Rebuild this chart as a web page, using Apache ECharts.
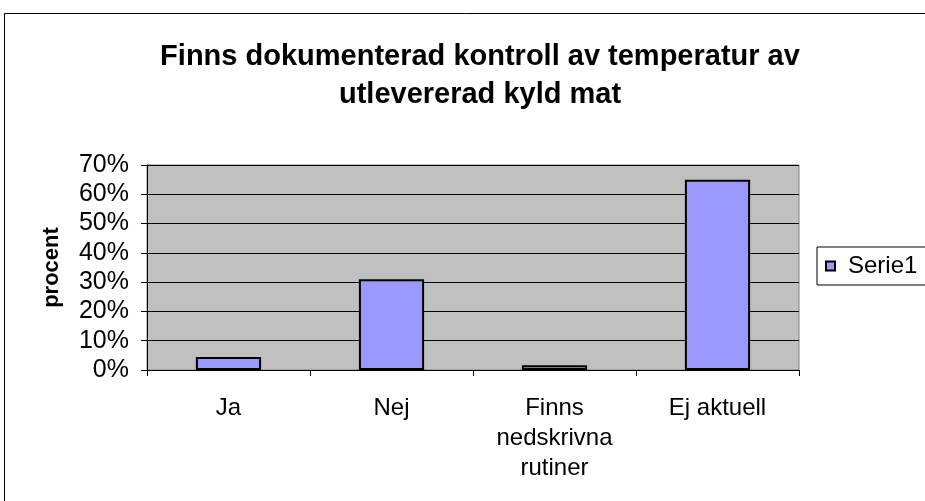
<!DOCTYPE html>
<html>
<head>
<meta charset="utf-8">
<script src="https://cdn.jsdelivr.net/npm/echarts@6/dist/echarts.min.js"></script>
<style>
  html, body { margin: 0; padding: 0; background: #fff; }
  #chart { width: 925px; height: 501px; }
</style>
</head>
<body>
<div id="chart"></div>
<script>
// kategorier och värden (andel)
var categories = ['Ja', 'Nej', 'Finns\nnedskrivna\nrutiner', 'Ej aktuell'];
var serie1 = [0.044, 0.31, 0.016, 0.65];
var seriesName = 'Serie1';

var chart = echarts.init(document.getElementById('chart'));
chart.setOption({
  animation: false,
  textStyle: { fontFamily: 'Liberation Sans, Arial, sans-serif' },
  title: {
    text: 'Finns dokumenterad kontroll av temperatur av\nutlevererad kyld mat',
    left: 475,
    top: 33,
    textAlign: 'center',
    textStyle: {
      fontSize: 29,
      fontWeight: 'bold',
      color: '#000',
      lineHeight: 38,
      fontFamily: 'Liberation Sans, Arial, sans-serif'
    }
  },
  graphic: [{
    type: 'rect',
    shape: { x: 4.5, y: 13.5, width: 1000, height: 600 },
    style: { fill: 'none', stroke: '#000', lineWidth: 1 },
    silent: true
  }],
  legend: {
    data: [seriesName],
    left: 817,
    top: 247,
    orient: 'vertical',
    padding: [7, 20, 7, 8],
    borderColor: '#000',
    borderWidth: 1,
    itemWidth: 9,
    itemHeight: 9,
    itemGap: 4,
    icon: 'rect',
    textStyle: { fontSize: 24, color: '#000', lineHeight: 24, padding: [0, 0, 0, 8] }
  },
  grid: {
    left: 147,
    right: 126,
    top: 165,
    bottom: 131,
    show: true,
    backgroundColor: '#C0C0C0',
    borderColor: '#808080',
    borderWidth: 1
  },
  xAxis: {
    type: 'category',
    data: categories,
    axisLine: { lineStyle: { color: '#000', width: 1 } },
    axisTick: { show: true, length: 6, lineStyle: { color: '#000' } },
    axisLabel: {
      color: '#000',
      fontSize: 24,
      margin: 23,
      lineHeight: 30,
      interval: 0
    }
  },
  yAxis: {
    type: 'value',
    min: 0,
    max: 0.7,
    interval: 0.1,
    name: 'procent',
    nameLocation: 'middle',
    nameGap: 84,
    nameTextStyle: { fontSize: 22, fontWeight: 'bold', color: '#000' },
    axisLine: { show: true, lineStyle: { color: '#000', width: 1 } },
    axisTick: { show: true, length: 6, lineStyle: { color: '#000' } },
    splitLine: { lineStyle: { color: '#000', width: 1 } },
    axisLabel: {
      color: '#000',
      fontSize: 25,
      margin: 18,
      formatter: function (v) { return Math.round(v * 100) + '%'; }
    }
  },
  series: [{
    name: seriesName,
    type: 'bar',
    data: serie1,
    barWidth: '40%',
    itemStyle: { color: '#9999FF', borderColor: '#000', borderWidth: 2 }
  }]
});
</script>
</body>
</html>
